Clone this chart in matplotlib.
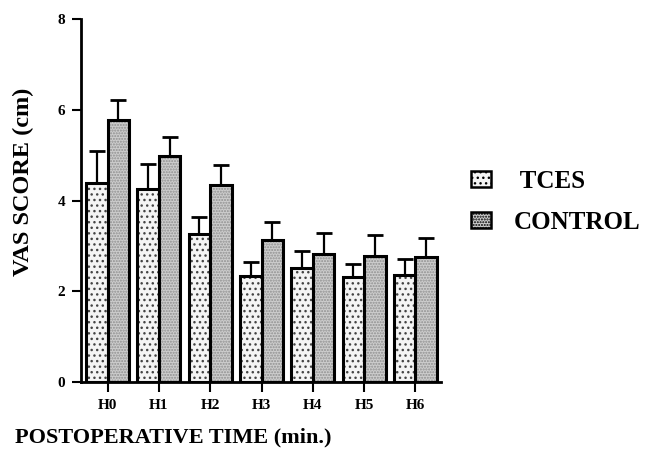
import matplotlib
matplotlib.use('Agg')
import matplotlib.pyplot as plt
from matplotlib.patches import Patch
import numpy as np

plt.rcParams['font.family'] = 'Liberation Serif'
plt.rcParams['font.weight'] = 'bold'
plt.rcParams['hatch.linewidth'] = 1.0

# Data
times = ['H0', 'H1', 'H2', 'H3', 'H4', 'H5', 'H6']
tces = [4.39, 4.25, 3.26, 2.34, 2.51, 2.31, 2.36]
tces_err = [0.71, 0.55, 0.37, 0.30, 0.37, 0.29, 0.36]
control = [5.77, 4.99, 4.34, 3.14, 2.82, 2.78, 2.75]
control_err = [0.45, 0.41, 0.44, 0.38, 0.46, 0.46, 0.43]

TCES_FACE, TCES_DOT = '#f4f4f4', '#444444'
CTRL_FACE, CTRL_DOT = '#cdcdcd', '#8f8f8f'

fig = plt.figure(figsize=(6.47, 4.57), dpi=100)
ax = fig.add_axes([81 / 647, 1 - 382 / 457, 360 / 647, 363 / 457])

x = np.arange(len(times))
w = 0.42

# fill + stipple first, black outline on top
ax.bar(x - w / 2, tces, w, color=TCES_FACE, hatch='...', edgecolor=TCES_DOT, linewidth=0, zorder=2)
ax.bar(x + w / 2, control, w, color=CTRL_FACE, hatch='......', edgecolor=CTRL_DOT, linewidth=0, zorder=2)
ax.bar(x - w / 2, tces, w, fill=False, edgecolor='black', linewidth=2.2, zorder=3)
ax.bar(x + w / 2, control, w, fill=False, edgecolor='black', linewidth=2.2, zorder=3)

# upper-only error bars
ax.errorbar(x - w / 2, tces, yerr=[np.zeros(len(tces)), tces_err], fmt='none',
            ecolor='black', elinewidth=1.6, capsize=5.5, capthick=2, zorder=1)
ax.errorbar(x + w / 2, control, yerr=[np.zeros(len(control)), control_err], fmt='none',
            ecolor='black', elinewidth=1.6, capsize=5.5, capthick=2, zorder=1)

ax.set_xlim(-0.52, 6.5)
ax.set_ylim(0, 8)
ax.set_yticks([0, 2, 4, 6, 8])
ax.set_xticks(x)
ax.set_xticklabels(times)
ax.spines['top'].set_visible(False)
ax.spines['right'].set_visible(False)
ax.spines['left'].set_linewidth(2)
ax.spines['bottom'].set_linewidth(2)
ax.tick_params(axis='y', direction='out', length=6.5, width=1.5, labelsize=11, pad=5)
ax.tick_params(axis='x', direction='out', length=7, width=1.5, labelsize=11, pad=5)
for lab in ax.get_xticklabels() + ax.get_yticklabels():
    lab.set_fontweight('bold')

fig.text(23 / 647, 1 - 182 / 457, 'VAS SCORE (cm)', rotation=90, ha='center', va='center',
         fontsize=17.5, fontweight='bold')
fig.text(15 / 647, 1 - 437 / 457, 'POSTOPERATIVE TIME (min.)', ha='left', va='center',
         fontsize=16, fontweight='bold')

# legend
h1 = Patch(facecolor=TCES_FACE, hatch='...', edgecolor='black', linewidth=1.8)
h2 = Patch(facecolor=CTRL_FACE, hatch='......', edgecolor='black', linewidth=1.8)
fig.legend([h1, h2], [' TCES', 'CONTROL'], loc='upper left',
           bbox_to_anchor=(471 / 647, 1 - 170 / 457), frameon=False,
           borderpad=0, borderaxespad=0,
           handlelength=0.8, handleheight=0.6, handletextpad=0.9, labelspacing=0.72,
           prop={'family': 'Liberation Serif', 'weight': 'bold', 'size': 18})

plt.savefig('out.png', dpi=100)
